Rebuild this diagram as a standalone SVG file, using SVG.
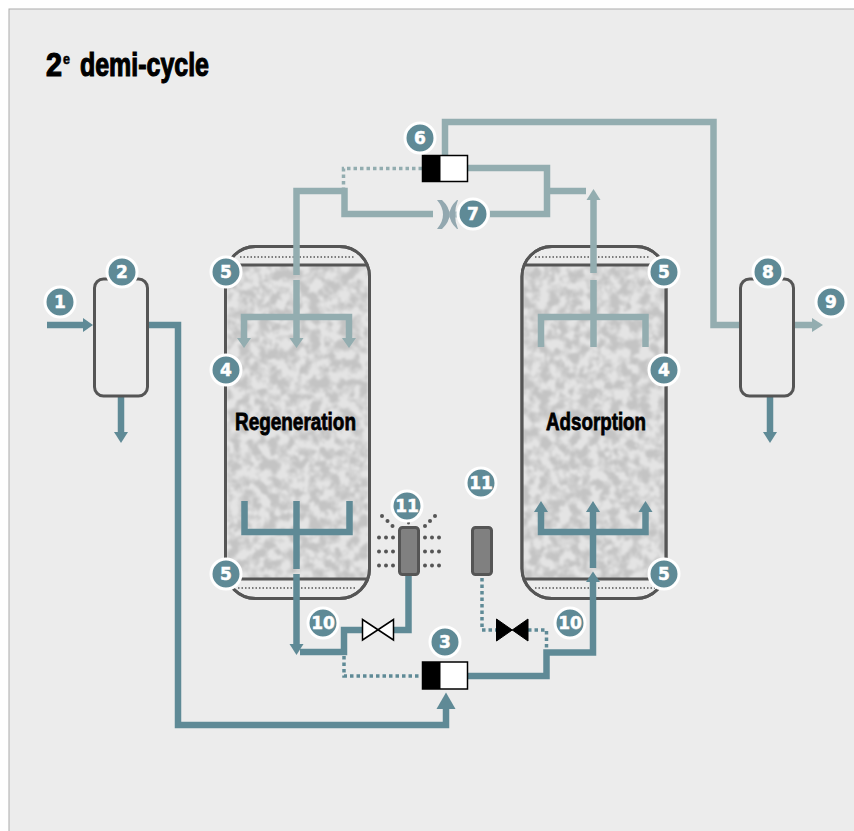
<svg xmlns="http://www.w3.org/2000/svg" width="854" height="831" viewBox="0 0 854 831">
<style>
.l{fill:none;stroke:#93adb0;stroke-width:6.500}
.d{fill:none;stroke:#5f8a96;stroke-width:6.500}
.ld{fill:none;stroke:#93adb0;stroke-width:3.500;stroke-dasharray:3.500 3}
.dd{fill:none;stroke:#5f8a96;stroke-width:3.500;stroke-dasharray:3.500 3}
.ha{fill:#93adb0}.hb{fill:#5f8a96}
.v{fill:#ececec;stroke:#555;stroke-width:3}
.sep{stroke:#555;stroke-width:3}
.dot{stroke:#555;stroke-width:1.500;stroke-dasharray:1.500 2;fill:none}
.b circle{fill:#5f8a96;stroke:#fff;stroke-width:3}
.b text{fill:#fff;stroke:#fff;stroke-width:0.500;font:bold 17px "DejaVu Sans",sans-serif;text-anchor:middle}
.t{fill:#000;stroke:#000;font-family:"Liberation Sans Narrow","Liberation Sans",sans-serif;font-weight:bold}
.g{fill:#808080;stroke:#555;stroke-width:3}
.s{fill:#555}
</style>
<defs>
<filter id="tex" x="0" y="0" width="1" height="1" color-interpolation-filters="sRGB">
<feTurbulence type="fractalNoise" baseFrequency="0.1" numOctaves="3" seed="7"/>
<feColorMatrix values="0 0 0 0 0 0 0 0 0 0 0 0 0 0 0 2.4 2.4 0 0 -1.95"/>
<feComponentTransfer result="a"><feFuncA type="discrete" tableValues="0 0.3 0.55 0.8 1"/></feComponentTransfer>
<feFlood flood-color="#c4c4c4"/>
<feComposite in2="a" operator="in" result="c"/>
<feFlood flood-color="#e4e4e4"/>
<feMerge><feMergeNode/><feMergeNode in="c"/></feMerge>
<feGaussianBlur stdDeviation="0.8"/>
</filter>
</defs>
<rect x="0" y="0" width="854" height="831" fill="#fff"/>
<rect x="9" y="9" width="860" height="840" fill="#ececec" stroke="#ababab" stroke-width="1"/>
<text class="t" x="46" y="76" font-size="33" stroke-width="1.200" textLength="16" lengthAdjust="spacingAndGlyphs">2</text>
<text class="t" x="63" y="64" font-size="14" stroke-width="0.500" textLength="7" lengthAdjust="spacingAndGlyphs">e</text>
<text class="t" x="80" y="76" font-size="33" stroke-width="1.200" textLength="129" lengthAdjust="spacingAndGlyphs">demi-cycle</text>

<g id="vessel-left">
<rect class="v" x="225.500" y="246.500" width="144" height="352" rx="30"/>
<rect x="227" y="265" width="141" height="314" filter="url(#tex)"/>
<path class="sep" d="M227 265H368M227 579H368"/>
<path class="dot" d="M240 257H355M238 588H357"/>
<rect x="225.500" y="246.500" width="144" height="352" rx="30" fill="none" stroke="#555" stroke-width="3"/>
<text class="t" x="235" y="430" font-size="24" stroke-width="0.800" textLength="121" lengthAdjust="spacingAndGlyphs">Regeneration</text>
</g>
<g id="vessel-right">
<rect class="v" x="522" y="246.500" width="144" height="352" rx="30"/>
<rect x="523.500" y="265" width="141" height="314" filter="url(#tex)"/>
<path class="sep" d="M523.500 265H664.500M523.500 579H664.500"/>
<path class="dot" d="M535 257H650M535 588H655"/>
<rect x="522" y="246.500" width="144" height="352" rx="30" fill="none" stroke="#555" stroke-width="3"/>
<text class="t" x="546" y="430" font-size="24" stroke-width="0.800" textLength="100" lengthAdjust="spacingAndGlyphs">Adsorption</text>
</g>

<g id="connectors">
<path class="ld" d="M422 168.500H343.500V190"/>
<path class="dd" d="M344 656V676H420"/>
<path class="dd" d="M482 578V630H497M528 630H546.500V650"/>
<path class="l" d="M445 155V122H713.500V325H740"/>
<path class="l" d="M468 168H547V214H490M547 191H586"/>
<path class="l" d="M296.500 275V191H344.500V214H433"/>
<path class="l" d="M793 325H813"/><path class="ha" d="M812 318L823 325L812 332Z"/>
<path class="l" d="M593.500 273V199"/><path class="ha" d="M586.500 200L593.500 189L600.500 200Z"/>
<path class="l" d="M593.500 280V347M541 347V317H645.500V347"/>
<path class="l" d="M296.500 280V339M244 339V317H349V339"/>
<path class="ha" d="M237 338H251L244 348ZM289.500 338H303.500L296.500 348ZM342 338H356L349 348Z"/>
<path class="d" d="M47 325H84"/><path class="hb" d="M83 318L93 325L83 332Z"/>
<path class="d" d="M121 396V433"/><path class="hb" d="M114 432H128L121 443Z"/>
<path class="d" d="M770 397V433"/><path class="hb" d="M763 432H777L770 443Z"/>
<path class="d" d="M147 325H178V725H446V708"/><path class="hb" d="M436.500 709L446 692.500L455.500 709Z"/>
<path class="d" d="M244.500 501V532H349.500V501M296.500 501V569"/>
<path class="d" d="M296.500 574V645"/><path class="hb" d="M289.500 644H303.500L296.500 655Z"/>
<path class="d" d="M300 652H344V630H362M394 630H408.500V575"/>
<path class="d" d="M468 676H546.500V652.500H593V581"/><path class="hb" d="M586 582L593 571.500L600 582Z"/>
<path class="d" d="M593 568V511M541 511V532H645.500V511"/>
<path class="hb" d="M534 512L541 501L548 512ZM586 512L593 501L600 512ZM638.500 512L645.500 501L652.500 512Z"/>
</g>

<g id="vessel-2"><rect class="v" x="94.500" y="279" width="53" height="117" rx="9"/></g>
<g id="vessel-8"><rect class="v" x="740.500" y="279" width="53" height="117" rx="9"/></g>
<g id="valve-6"><rect x="422.500" y="155.500" width="45" height="26" fill="#fff" stroke="#000" stroke-width="1.500"/><rect x="422.500" y="155.500" width="18" height="26" fill="#000"/></g>
<g id="valve-3"><rect x="422.500" y="662" width="45" height="27" fill="#fff" stroke="#000" stroke-width="1.500"/><rect x="422.500" y="662" width="18" height="27" fill="#000"/></g>
<g id="restrictor-7">
<path stroke="#a9bcc0" stroke-width="6" d="M449 214.500H460"/>
<path fill="#93a8b0" d="M437 200H442Q449.500 207 449.500 214.500Q449.500 222 442 229H437Q443 222 443 214.500Q443 207 437 200Z"/>
<path fill="#93a8b0" d="M458 200H457Q449.500 207 449.500 214.500Q449.500 222 457 229H458Q455 222 455 214.500Q455 207 458 200Z"/>
</g>
<g id="valve-left"><path d="M362.500 619.500L393.500 640V619.500L362.500 640Z" fill="#fff" stroke="#000" stroke-width="1.500" stroke-linejoin="miter"/></g>
<g id="valve-right"><path d="M496.500 619L528 641V619L496.500 641Z" fill="#000" stroke="#000" stroke-width="1"/></g>
<g id="silencer-left">
<rect class="g" x="399.500" y="527.500" width="19" height="47" rx="3"/>
<g class="s">
<circle cx="379" cy="537.500" r="2"/><circle cx="386" cy="537.500" r="2"/><circle cx="393" cy="537.500" r="2"/>
<circle cx="379" cy="551.500" r="2"/><circle cx="386" cy="551.500" r="2"/><circle cx="393" cy="551.500" r="2"/>
<circle cx="379" cy="565.500" r="2"/><circle cx="386" cy="565.500" r="2"/><circle cx="393" cy="565.500" r="2"/>
<circle cx="425" cy="537.500" r="2"/><circle cx="432" cy="537.500" r="2"/><circle cx="439" cy="537.500" r="2"/>
<circle cx="425" cy="551.500" r="2"/><circle cx="432" cy="551.500" r="2"/><circle cx="439" cy="551.500" r="2"/>
<circle cx="425" cy="565.500" r="2"/><circle cx="432" cy="565.500" r="2"/><circle cx="439" cy="565.500" r="2"/>
<circle cx="382" cy="516" r="2"/><circle cx="387.500" cy="521" r="2"/><circle cx="392.500" cy="526" r="2"/>
<circle cx="435" cy="516" r="2"/><circle cx="430" cy="521" r="2"/><circle cx="425" cy="526" r="2"/>
<circle cx="408.500" cy="523" r="1.500"/>
</g>
</g>
<g id="silencer-right"><rect class="g" x="472.500" y="527.500" width="19" height="47" rx="3"/></g>

<g id="badges" class="b">
<g id="n1"><circle cx="60" cy="302" r="15"/><text x="60" y="308">1</text></g>
<g id="n2"><circle cx="122" cy="272" r="15"/><text x="122" y="278">2</text></g>
<g id="n3"><circle cx="445" cy="642" r="15"/><text x="445" y="648">3</text></g>
<g id="n4a"><circle cx="226" cy="370" r="15"/><text x="226" y="376">4</text></g>
<g id="n4b"><circle cx="664" cy="370" r="15"/><text x="664" y="376">4</text></g>
<g id="n5a"><circle cx="226" cy="272" r="15"/><text x="226" y="278">5</text></g>
<g id="n5b"><circle cx="664" cy="272" r="15"/><text x="664" y="278">5</text></g>
<g id="n5c"><circle cx="226" cy="574" r="15"/><text x="226" y="580">5</text></g>
<g id="n5d"><circle cx="664" cy="574" r="15"/><text x="664" y="580">5</text></g>
<g id="n6"><circle cx="420" cy="138" r="15"/><text x="420" y="144">6</text></g>
<g id="n7"><circle cx="473" cy="214" r="15"/><text x="473" y="220">7</text></g>
<g id="n8"><circle cx="768" cy="272" r="15"/><text x="768" y="278">8</text></g>
<g id="n9"><circle cx="831" cy="302" r="15"/><text x="831" y="308">9</text></g>
<g id="n10a"><circle cx="323" cy="623" r="15"/><text x="323" y="629">10</text></g>
<g id="n10b"><circle cx="570" cy="623" r="15"/><text x="570" y="629">10</text></g>
<g id="n11a"><circle cx="407" cy="506" r="15"/><text x="407" y="512">11</text></g>
<g id="n11b"><circle cx="481" cy="483" r="15"/><text x="481" y="489">11</text></g>
</g>
</svg>
